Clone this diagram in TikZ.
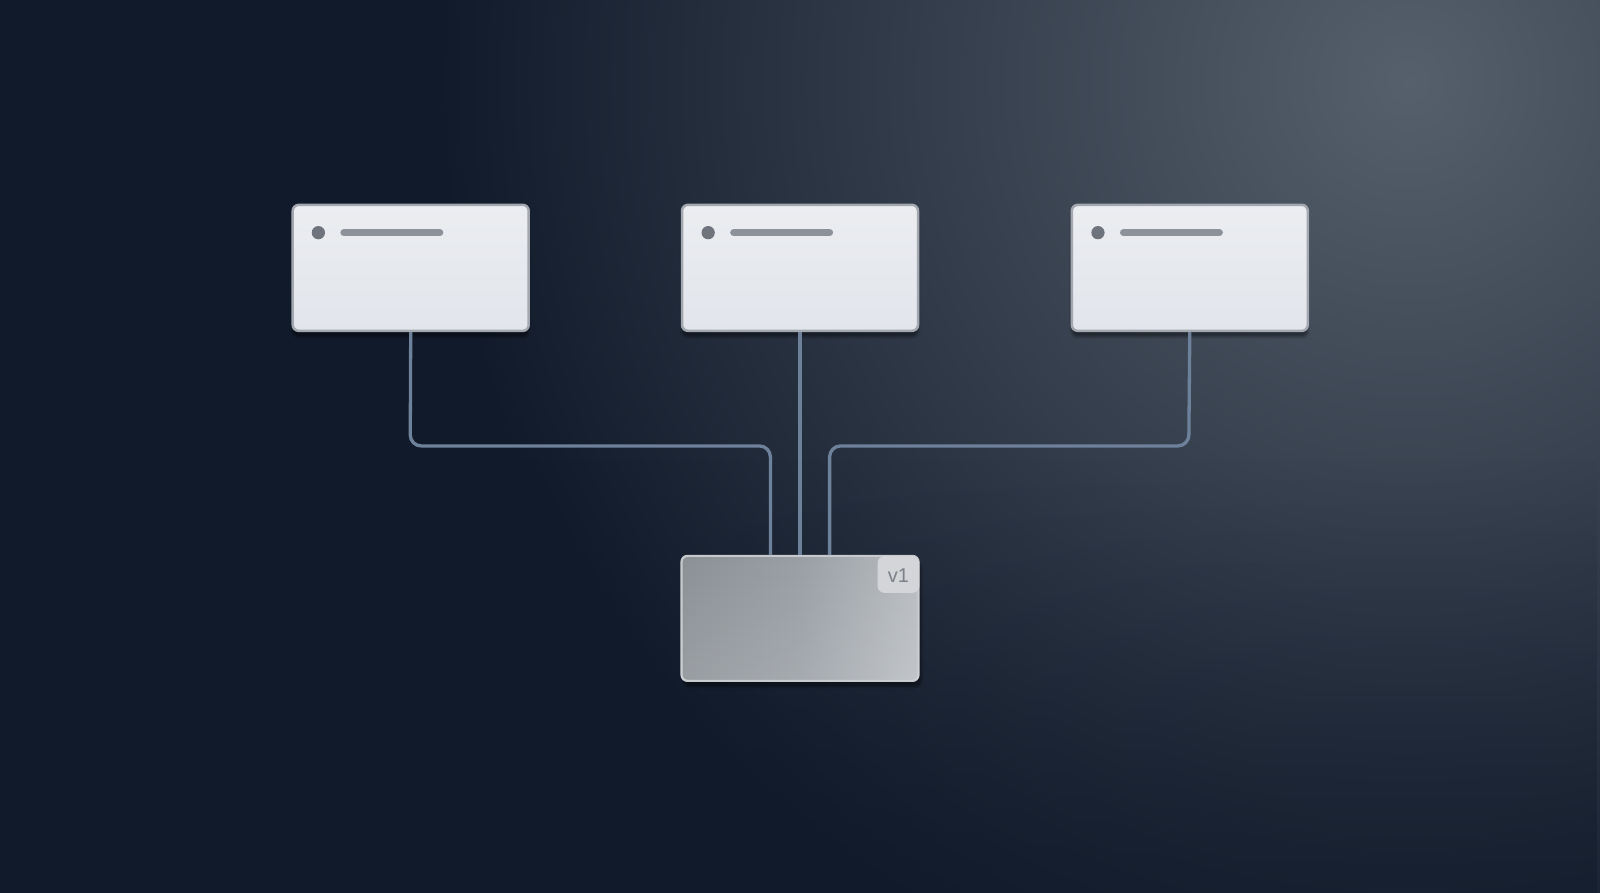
\documentclass[tikz,border=0pt]{standalone}
\usepackage{fontspec}
\setmainfont{Liberation Sans}
\usetikzlibrary{shadows.blur,fadings}
\definecolor{bgdark}{HTML}{111A2A}
\definecolor{bglight}{HTML}{56606C}
\definecolor{cardfill}{HTML}{E2E5EB}
\definecolor{cardtop}{HTML}{EBEDF1}
\definecolor{cardedge}{HTML}{A3A8B0}
\definecolor{wire}{HTML}{6E819B}
\definecolor{dotc}{HTML}{6E737C}
\definecolor{barc}{HTML}{8C919A}
\definecolor{basefill}{HTML}{9A9FA5}
\definecolor{basedark}{HTML}{8C9196}
\definecolor{baselight}{HTML}{B9BDC1}
\definecolor{tabfill}{HTML}{D3D5D8}
\tikzset{
  card/.style={draw=cardedge, line width=2.5pt, rounded corners=6pt, top color=cardtop, bottom color=cardfill,
    minimum width=236pt, minimum height=126pt, inner sep=0pt,
    blur shadow={shadow blur steps=8, shadow xshift=0pt, shadow yshift=-6pt, shadow opacity=40}},
  wirestyle/.style={draw=wire, line width=3.3pt, rounded corners=11pt},
  bar/.style={line width=7pt, line cap=round, draw=barc},
}
\begin{document}
\begin{tikzpicture}[x=1.0204pt,y=-1.0204pt]
\useasboundingbox (0,0) rectangle (1568,875);
\fill[bgdark] (0,0) rectangle (1568,875);
\shade[inner color=bglight, outer color=bgdark] (1380,80) circle (950);
\fill[bgdark, path fading=north, opacity=0.5] (0,450) rectangle (1568,875);
% cards
\node[card] (c1) at (402.5,262.5) {};
\node[card] (c2) at (784,262.5) {};
\node[card] (c3) at (1166,262.5) {};
% base
\node[draw=baselight!80!white, line width=2.2pt, rounded corners=6pt, left color=basedark, right color=baselight, middle color=basefill,
  minimum width=237pt, minimum height=125pt, inner sep=0pt,
  blur shadow={shadow blur steps=8, shadow yshift=-6pt, shadow opacity=40}] (b) at (784,606) {};
\fill[white, opacity=0.12, path fading=north, rounded corners=6pt] (667,545) rectangle (901,667);
% wires
\coordinate (bl) at (755,544);
\coordinate (br) at (813,544);
\draw[wirestyle] (c1.south) -- (402,437) -- (755,437) -- (bl);
\draw[wirestyle] (c2.south) -- (b.north);
\draw[wirestyle] (c3.south) -- (1165,437) -- (813,437) -- (br);
% card details
\foreach \c/\x in {c1/312, c2/694, c3/1076}{
  \fill[dotc] (\x,228) circle (6.5);
  \draw[bar] (\x+25,228) -- (\x+119,228);
}
% tab
\fill[tabfill, rounded corners=7pt] (860,545) -- (860,581) -- (901,581) -- (901,545) -- cycle;
\node[text=dotc!90!white, font=\fontsize{20}{20}\selectfont] (v) at (880.5,564) {v1};
\end{tikzpicture}
\end{document}
